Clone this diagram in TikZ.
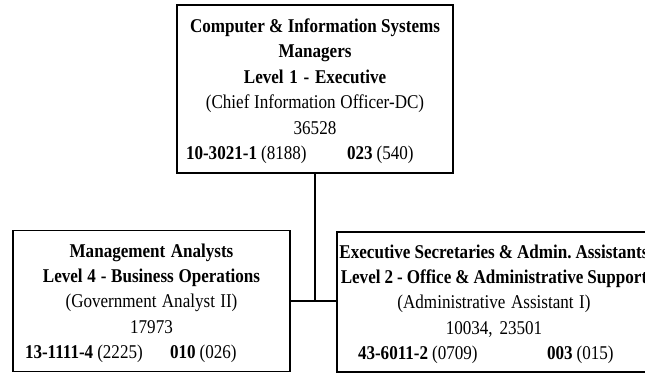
\documentclass[tikz,border=0pt]{standalone}
\usepackage{fontspec}
\setmainfont{Liberation Serif}[FakeStretch=0.875]
\newcommand\jobfont{\fontsize{19.5}{25.4}\selectfont}
% start of each box text: tight, even word spacing and extra room above the first line
\newcommand\boxstart{\frenchspacing\spaceskip=4pt plus 1pt minus 1pt\relax\rule{0pt}{18pt}}
% a line kept whole, centred even when wider than the box
\newcommand\wholeline[1]{\makebox[\linewidth][c]{#1}}
% bottom line of a box: code and counts set at two tab stops
\newcommand\tabline[6]{\makebox[\linewidth][l]{\hspace{#1pt}\makebox[#2pt][l]{\textbf{#3} (#4)}\textbf{#5} (#6)}}
\tikzset{
  jobbox/.style={draw, line width=1.9pt, inner xsep=0pt, inner ysep=0pt,
    align=center, font=\jobfont},
  connector/.style={draw, line width=1.9pt},
}
\begin{document}
\begin{tikzpicture}[x=1pt, y=-1pt]
\useasboundingbox (0,0) rectangle (645,373);
\clip (0,0) rectangle (645,373);
\node[jobbox, text width=276pt, minimum height=168pt] (exec) at (315,89)
  {\boxstart\textbf{Computer \& Information Systems}\\
   \textbf{Managers}\\
   \textbf{Level 1 - Executive}\\
   (Chief Information Officer-DC)\\
   36528\\
   \tabline{9}{161}{10-3021-1}{8188}{023}{540}};
\node[jobbox, text width=277pt, minimum height=141pt] (mgmt) at (151.5,301)
  {\boxstart\textbf{Management Analysts}\\
   \textbf{Level 4 - Business Operations}\\
   (Government Analyst II)\\
   17973\\
   \tabline{12}{145}{13-1111-4}{2225}{010}{026}};
\node[jobbox, text width=314pt, minimum height=140pt] (admin) at (494,302)
  {\boxstart\wholeline{\textbf{Executive Secretaries \& Admin. Assistants}}\\
   \wholeline{\textbf{Level 2 - Office \& Administrative Support}}\\
   (Administrative Assistant I)\\
   10034, 23501\\
   \tabline{21}{189}{43-6011-2}{0709}{003}{015}};
\coordinate (junction) at (exec.south |- mgmt.east);
\path[connector] (exec.south) -- (junction);
\path[connector] (mgmt.east) -- (admin.west |- mgmt.east);
\end{tikzpicture}
\end{document}
